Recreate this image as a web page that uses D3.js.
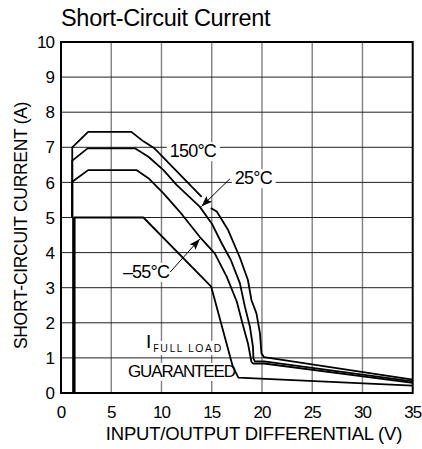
<!DOCTYPE html>
<html lang="en">
<head>
<meta charset="UTF-8">
<title>Short-Circuit Current</title>
<script src="https://d3js.org/d3.v7.min.js"></script>
<style>
  body { margin: 0; background: #fff; }
  text { font-family: "Liberation Sans", Arial, sans-serif; fill: #000; }
</style>
</head>
<body>
<div id="figure" style="width:422px;height:449px"></div>
<script>
    // axis ticks
    const xTicks = [0, 5, 10, 15, 20, 25, 30, 35];
    const yTicks = [0, 1, 2, 3, 4, 5, 6, 7, 8, 9, 10];

    // curves: [volts, amps], null = gap in the line
    const curveTop = [[1.12, 5], [1.12, 7.0], [2.7, 7.44], [7.0, 7.44], [8.2, 7.17], [9.3, 6.97],
        [14.0, 5.59], null, [14.9, 5.27], [15.5, 5.17], [16.6, 4.66], [17.8, 3.86], [18.6, 3.22],
        [18.95, 2.65], [19.45, 2.27], [19.8, 1.7], [19.95, 1.13], [20.2, 1.02], [35, 0.38]];
    const curveMid = [[1.12, 5], [1.12, 6.62], [2.65, 6.97], [7.35, 6.97], [8.7, 6.73], [10.2, 6.35],
        [11.5, 5.93], [13.8, 5.31], [15.0, 4.83], [16.0, 4.26], [16.9, 3.79], [17.8, 3.13],
        [18.3, 2.46], [18.8, 1.89], [19.1, 1.32], [19.15, 0.98], [19.3, 0.9], [20.2, 0.9], [35, 0.33]];
    const curveLow = [[1.12, 5], [1.12, 6.02], [2.7, 6.35], [7.5, 6.35], [8.7, 6.12], [10.2, 5.69],
        [11.8, 5.17], [13.8, 4.45], [15.3, 3.98], [16.5, 3.31], [17.5, 2.6], [18.1, 1.94],
        [18.6, 1.42], [18.95, 0.89], [19.1, 0.84], [20.2, 0.84], [35, 0.29]];
    const guaranteed = [[1.28, 5], [8.2, 5], [14.95, 3.03], [17.1, 0.75], [17.65, 0.44], [35, 0.21]];
    const guaranteedRise = [[1.28, 0], [1.28, 5]];

    // annotations
    const labels = [
        {text: "150°C", v: 10.83, i: 6.72},
        {text: "25°C", v: 17.3, i: 5.95},
        {text: "\u201355°C", v: 6.16, i: 3.28}
    ];
    const arrows = [
        {from: [16.8, 6.1], to: [13.97, 5.31]},
        {from: [10.88, 3.45], to: [13.82, 4.39]}
    ];

    let w = 422, h = 449;
    let margin = {left: 61, right: 9.3, top: 42, bottom: 56};

    let svg = d3.select("#figure").append("svg")
        .attr("width", w)
        .attr("height", h);

    let xScale = d3.scaleLinear().domain([0, 35]).range([margin.left, w - margin.right]);
    let yScale = d3.scaleLinear().domain([0, 10]).range([h - margin.bottom, margin.top]);

    // grid
    let grid = svg.append("g");
    grid.selectAll(".vg").data(xTicks.slice(1, -1)).enter().append("line")
        .attr("x1", d => xScale(d)).attr("x2", d => xScale(d))
        .attr("y1", yScale(10)).attr("y2", yScale(0))
        .style("stroke", "#808080").style("stroke-width", 1.4);
    grid.selectAll(".hg").data(yTicks.slice(1, -1)).enter().append("line")
        .attr("x1", xScale(0)).attr("x2", xScale(35))
        .attr("y1", d => yScale(d)).attr("y2", d => yScale(d))
        .style("stroke", "#222").style("stroke-width", 1);

    // white boxes behind the annotations (cut the grid)
    let knock = svg.append("g");
    let notes = svg.append("g");

    let annoFont = "18px";
    labels.forEach(l => {
        notes.append("text")
            .attr("x", xScale(l.v)).attr("y", yScale(l.i))
            .style("font-size", annoFont).style("letter-spacing", "-0.8px")
            .text(l.text);
    });
    notes.append("text").attr("x", xScale(8.45)).attr("y", yScale(1.28))
        .style("font-size", "19px").text("I");
    notes.append("text").attr("x", xScale(9.15)).attr("y", yScale(1.17))
        .style("font-size", "11px").style("letter-spacing", "1.4px")
        .style("font-family", "'Open Sans', sans-serif").text("FULL LOAD");
    notes.append("text").attr("x", xScale(6.66)).attr("y", yScale(0.46))
        .style("font-size", "17px").style("letter-spacing", "-1.1px").text("GUARANTEED");

    notes.selectAll("text").each(function () {
        let b = this.getBBox();
        knock.append("rect")
            .attr("x", b.x - 3).attr("y", b.y + 1)
            .attr("width", b.width + 6).attr("height", b.height - 1)
            .style("fill", "#fff");
    });

    // curves
    let line = d3.line()
        .defined(d => d !== null)
        .x(d => xScale(d[0]))
        .y(d => yScale(d[1]));
    let plot = svg.append("g");
    [curveTop, curveMid, curveLow, guaranteed].forEach(c => {
        plot.append("path")
            .attr("d", line(c))
            .style("fill", "none")
            .style("stroke", "#000")
            .style("stroke-width", 1.8)
            .style("stroke-linejoin", "round");
    });
    plot.append("path")
        .attr("d", line(guaranteedRise))
        .style("fill", "none").style("stroke", "#000").style("stroke-width", 3.4);

    // arrows
    svg.append("defs").append("marker")
        .attr("id", "head")
        .attr("markerUnits", "userSpaceOnUse")
        .attr("markerWidth", 12).attr("markerHeight", 8)
        .attr("refX", 11).attr("refY", 4)
        .attr("orient", "auto")
        .append("path").attr("d", "M0,0 L11,4 L0,8 L2,4 Z").style("fill", "#000");
    arrows.forEach(a => {
        svg.append("line")
            .attr("x1", xScale(a.from[0])).attr("y1", yScale(a.from[1]))
            .attr("x2", xScale(a.to[0])).attr("y2", yScale(a.to[1]))
            .style("stroke", "#000").style("stroke-width", 1)
            .attr("marker-end", "url(#head)");
    });

    // frame
    svg.append("rect")
        .attr("x", xScale(0)).attr("y", yScale(10))
        .attr("width", xScale(35) - xScale(0)).attr("height", yScale(0) - yScale(10))
        .style("fill", "none").style("stroke", "#000").style("stroke-width", 2);

    // tick labels
    svg.selectAll(".xt").data(xTicks).enter().append("text")
        .attr("x", d => xScale(d)).attr("y", yScale(0) + 25)
        .attr("text-anchor", "middle")
        .style("font-size", "17px").style("letter-spacing", "-1px")
        .text(d => d);
    svg.selectAll(".yt").data(yTicks).enter().append("text")
        .attr("x", xScale(0) - 7).attr("y", d => yScale(d))
        .attr("dy", "0.36em")
        .attr("text-anchor", "end")
        .style("font-size", "17px").style("letter-spacing", "-1px")
        .text(d => d);

    // titles
    svg.append("text").attr("x", xScale(0)).attr("y", 26)
        .style("font-size", "23.5px").style("letter-spacing", "-0.3px")
        .text("Short-Circuit Current");
    svg.append("text").attr("x", 254).attr("y", 440)
        .attr("text-anchor", "middle")
        .style("font-size", "18.5px").style("letter-spacing", "-0.2px")
        .text("INPUT/OUTPUT DIFFERENTIAL (V)");
    svg.append("text")
        .attr("transform", "translate(27," + (yScale(5) + 8) + ") rotate(-90)")
        .attr("text-anchor", "middle")
        .style("font-size", "17.5px").style("letter-spacing", "-0.3px")
        .text("SHORT-CIRCUIT CURRENT (A)");
</script>
</body>
</html>
